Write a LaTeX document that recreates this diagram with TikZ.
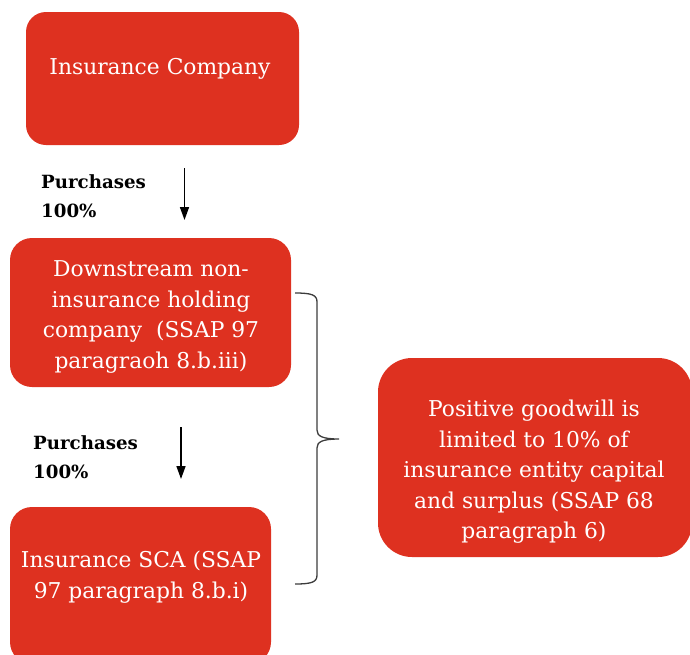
\documentclass[tikz,border=0pt]{standalone}
\usepackage{fontspec}
\setmainfont{DejaVu Serif}
\usetikzlibrary{arrows.meta}
\definecolor{boxred}{RGB}{222,49,32}
\definecolor{bracegray}{RGB}{60,60,60}
\begin{document}
\begin{tikzpicture}[x=1pt,y=-1pt,
  redbox/.style={fill=boxred, draw=none, rounded corners=#1},
  boxtext/.style={text=white, align=center, inner sep=0pt, font=\fontsize{21.8}{30.5}\selectfont},
  buylabel/.style={anchor=west, align=left, inner sep=0pt, font=\bfseries\fontsize{18.2}{29}\selectfont},
  buyarrow/.style={-{Triangle[length=13pt,width=9pt]}, line width=1.5pt},
  bracket/.style={draw=bracegray, line width=1.3pt}]
\useasboundingbox (0,0) rectangle (690,654);
% boxes
\path[redbox=20pt] (26,12) rectangle (299,145);
\node[boxtext] (ictext) at (160,69) {Insurance Company};
\path[redbox=22pt] (10,238) rectangle (291,387);
\node[boxtext] (dstext) at (151,317) {Downstream non-\\insurance holding\\company\ \ (SSAP 97\\paragraoh 8.b.iii)};
\path[redbox=22pt] (10,507) rectangle (271,664);
\node[boxtext] (scatext) at (141,577) {Insurance SCA (SSAP\\97 paragraph 8.b.i)};
\path[redbox=34pt] (378,358) rectangle (692,557);
\node[boxtext] (gwtext) at (534,472) {Positive goodwill is\\limited to 10\% of\\insurance entity capital\\and surplus (SSAP 68\\paragraph 6)};
% labels
\node[buylabel] (buy1) at (41,196) {Purchases\\100\%};
\node[buylabel] (buy2) at (33,457) {Purchases\\100\%};
% arrows
\coordinate (a1s) at (184.5,168);
\coordinate (a1e) at (184.5,220);
\coordinate (a2s) at (181,427);
\coordinate (a2e) at (181,479);
\draw[buyarrow] (a1s) -- (a1e);
\draw[buyarrow] (a2s) -- (a2e);
% brace
\coordinate (brtop) at (295,293);
\coordinate (brtip) at (339,439);
\coordinate (brbot) at (295,584);
\draw[bracket] (brtop) .. controls (312,293) and (317,295) .. (317,302)
  -- (317,430) .. controls (317,436) and (322,439) .. (brtip)
  .. controls (322,439) and (317,442) .. (317,448)
  -- (317,575) .. controls (317,582) and (312,584) .. (brbot);
\end{tikzpicture}
\end{document}
